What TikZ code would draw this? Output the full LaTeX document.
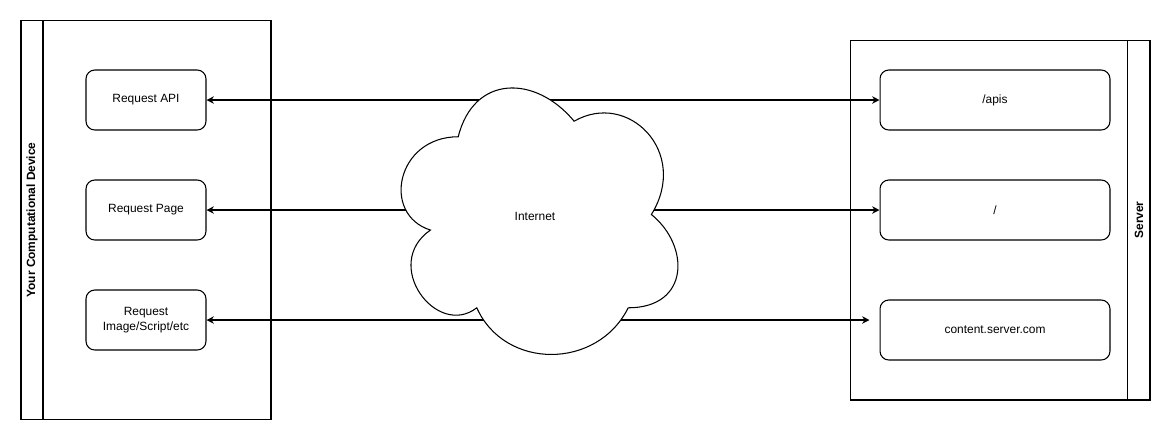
\documentclass[tikz,border=0pt]{standalone}
\usepackage{fontspec}
\setmainfont{Liberation Sans}
\usepackage{tikz}
\usetikzlibrary{arrows.meta, positioning, calc}
\newcommand{\diafont}{\fontsize{6.8pt}{8.5pt}\selectfont}

\begin{document}
\begin{tikzpicture}[x=0.02cm, y=-0.02cm, line width=0.6pt, every node/.style={font=\diafont}]
			\tikzstyle{pool}=[draw=black, minimum width=5cm, minimum height=8cm, inner sep=0pt]
			\tikzstyle{task}=[draw=black, rounded corners=5pt, minimum width=2.4cm, minimum height=1.2cm, align=center, inner sep=1pt]
			\tikzstyle{taskw}=[task, minimum width=4.6cm]
			\tikzstyle{lane}=[rotate=90, font=\diafont\bfseries]
			\tikzstyle{link}=[{Stealth[length=4.2pt,width=4.2pt]}-{Stealth[length=4.2pt,width=4.2pt]}]
			\useasboundingbox (0,0) rectangle (1171,441);
			%% left pool
			\node (dev) at (146,220) [pool] {};
			\draw (43,20) -- (43,420);
			\node (devt) at (32,220) [lane] {Your Computational Device};
			%% right pool
			\node (srv) at (1000,220) [pool, minimum width=6cm, minimum height=7.2cm] {};
			\draw (1127.5,40) -- (1127.5,400);
			\node (srvt) at (1139,220) [lane] {Server};
			%%
			\node (r1) at (146,100) [task] {Request API};
			\node (r2) at (146,210) [task] {Request Page};
			\node (r3) at (146,320) [task] {Request\\Image/Script/etc};
			\node (s1) at (995,100) [taskw] {/apis};
			\node (s2) at (995,210) [taskw] {/};
			\node (s3) at (995,330) [taskw] {content.server.com};
			
			\draw [link] (r1.east) -- (s1.west);
			\draw [link] (r2.east) -- (s2.west);
			\draw [link, shorten >=0.2cm] (r3.east) -- (s3.west |- r3.east);
			
			%% cloud on top of the links
			\begin{scope}[shift={(381,59)}, xscale=309, yscale=311]
			\draw [fill=white] (0.25,0.25) .. controls (0.05,0.25) and (0,0.5) .. (0.16,0.55)
			.. controls (0,0.66) and (0.18,0.9) .. (0.31,0.8)
			.. controls (0.4,1) and (0.7,1) .. (0.8,0.8)
			.. controls (1,0.8) and (1,0.6) .. (0.875,0.5)
			.. controls (1,0.3) and (0.8,0.1) .. (0.625,0.2)
			.. controls (0.5,0.05) and (0.3,0.05) .. (0.25,0.25) -- cycle;
			\end{scope}
			\node (net) at (535,216) {Internet};
\end{tikzpicture}
\end{document}
